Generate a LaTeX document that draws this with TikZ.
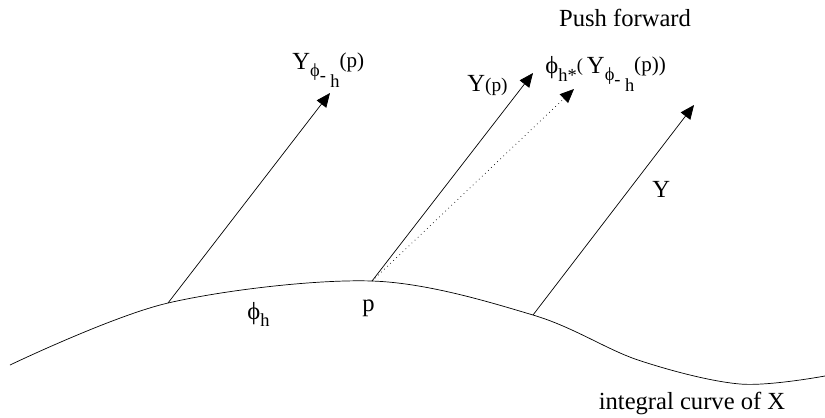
\documentclass[tikz,border=0pt]{standalone}
\usepackage{fontspec}
\setmainfont{Liberation Serif}
\usetikzlibrary{arrows.meta}
\newcommand{\subsz}{\fontsize{10.5}{12}\selectfont}
\newcommand{\parsz}{\fontsize{12}{14}\selectfont}
\newcommand{\ysub}{Y\raisebox{-4pt}{\subsz ϕ}\raisebox{-7pt}{\subsz -}\hspace{2.5pt}\raisebox{-10.5pt}{\subsz h}\raisebox{1pt}{\parsz (p)}}

\begin{document}
\begin{tikzpicture}[x=0.02cm,y=-0.02cm,font=\fontsize{14}{16}\selectfont]
\useasboundingbox (0,0) rectangle (825,417);
\tikzset{vec/.style={-{Triangle[length=0.28cm,width=0.24cm]}}}
\coordinate (A) at (168,303); \coordinate (P) at (372,281); \coordinate (C) at (533,315);
\coordinate (TA) at (330,93); \coordinate (TP) at (533,73); \coordinate (TQ) at (574,89); \coordinate (TC) at (694,105);
\draw plot[smooth,tension=0.55] coordinates {(10,365) (A) (P) (C) (638,360) (740,384) (825,376)};
\draw[vec] (A)--(TA);
\draw[vec] (P)--(TP);
\draw[vec,dotted] (P)--(TQ);
\draw[vec] (C)--(TC);
\node (push) at (625,18) {Push forward};
\node[anchor=base west,inner sep=0pt] (ya) at (292,69) {\ysub};
\node[anchor=base west,inner sep=0pt] (yp) at (467,91) {Y{\fontsize{11}{12}\selectfont (p)}};
\node[anchor=base west,inner sep=0pt] (yq) at (545,73) {ϕ\raisebox{-5pt}{\subsz h*}\raisebox{1pt}{\subsz (}\,\ysub{\parsz\raisebox{1pt}{)}}};
\node[anchor=base west,inner sep=0pt] (yc) at (652,197) {Y};
\node[anchor=base west,inner sep=0pt] (phih) at (247,319) {ϕ\raisebox{-4pt}{\subsz h}};
\node[anchor=base west,inner sep=0pt] (p) at (362,311) {p};
\node (curve) at (692,403) {integral curve of X};
\end{tikzpicture}
\end{document}
